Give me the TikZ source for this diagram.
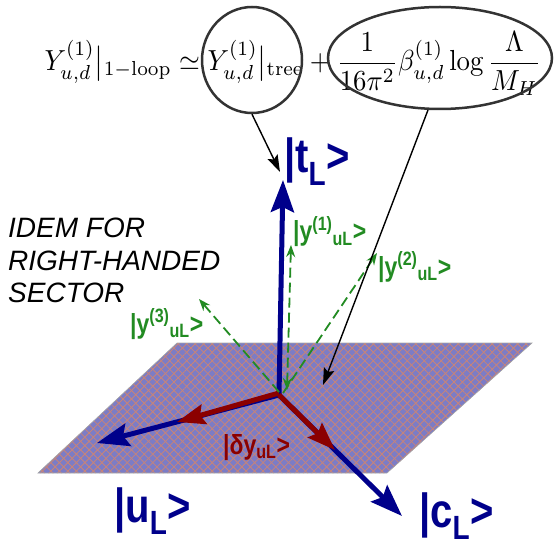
\documentclass[tikz,border=0pt]{standalone}
\usepackage{amsmath}
\usepackage{fontspec}
\setsansfont{Liberation Sans}
\usetikzlibrary{arrows.meta,shapes.geometric,patterns.meta}
\definecolor{Navy}{HTML}{00008B}
\definecolor{Maroon}{HTML}{8B0000}
\definecolor{Leaf}{HTML}{228B22}
\definecolor{Ring}{HTML}{333333}
\definecolor{PlaneBlue}{HTML}{7C7CC6}
\definecolor{PlaneHatch}{HTML}{C88478}

\begin{document}
\begin{tikzpicture}[x=1pt,y=1pt,
    ring/.style={draw=Ring,line width=2.5pt,ellipse,inner sep=0pt},
    basisvec/.style={draw=Navy,line width=5pt,-{Stealth[length=32pt,width=23pt,inset=5pt]}},
    shiftvec/.style={draw=Maroon,line width=5pt,-{Stealth[length=28pt,width=20pt,inset=4pt]}},
    yukvec/.style={draw=Leaf,line width=1.8pt,dash pattern=on 10pt off 5pt,-{Stealth[length=12pt,width=9pt]}},
    pointer/.style={draw=black,line width=1.4pt,-{Stealth[length=17pt,width=11pt,inset=3pt]}},
    ketbig/.style={text=Navy,font=\sffamily\bfseries\fontsize{40}{40}\selectfont,inner sep=0pt,anchor=base west,yscale=1.2,transform shape},
    ketsmall/.style={font=\sffamily\bfseries\fontsize{23}{23}\selectfont,inner sep=0pt,anchor=base west,yscale=1.2,transform shape}
  ]
    \useasboundingbox (0,0) rectangle (554,539);

    \fill[PlaneBlue] (38,66) -- (387,66) -- (532,196) -- (177,196) -- cycle;
    \fill[pattern={Lines[angle=45,distance=6pt,line width=0.8pt]},pattern color=PlaneHatch] (38,66) -- (387,66) -- (532,196) -- (177,196) -- cycle;
    \fill[pattern={Lines[angle=-45,distance=6pt,line width=0.8pt]},pattern color=PlaneHatch] (38,66) -- (387,66) -- (532,196) -- (177,196) -- cycle;
    \draw[gray!70,line width=0.6pt] (38,66) -- (387,66) -- (532,196) -- (177,196) -- cycle;

    \node[anchor=base west,inner sep=0pt,xscale=2.68,yscale=2.9,transform shape] (yuk) at (44,468)
      {$\displaystyle Y^{(1)}_{u,d}\big|{}_{1-\mathrm{loop}} \simeq Y^{(1)}_{u,d}\big|{}_{\mathrm{tree}} + \frac{1}{16\pi^2}\beta^{(1)}_{u,d}\log\frac{\Lambda}{M_H}$};
    \node[ring,minimum width=100pt,minimum height=106pt] (tree) at (252,479) {};
    \node[ring,minimum width=224pt,minimum height=102pt] (loop) at (440,481) {};

    \node[anchor=north west,align=left,inner sep=0pt,font=\sffamily\itshape\fontsize{28}{32.5}\selectfont] (idem) at (8,321) {IDEM FOR\\RIGHT-HANDED\\SECTOR};

    \coordinate (O) at (279,144);
    \coordinate (tT) at (283,359);
    \coordinate (tU) at (97,96);
    \coordinate (tC) at (402,23);
    \coordinate (dU) at (177,117);
    \coordinate (dC) at (335,89);
    \coordinate (y1) at (291,294);
    \coordinate (y2) at (377,286);
    \coordinate (y3) at (199,240);
    \coordinate (tipT) at (280,367);
    \coordinate (tipP) at (323,154);

    \draw[basisvec] (O) -- (tT);
    \draw[basisvec] (O) -- (tU);
    \draw[basisvec] (O) -- (tC);
    \draw[shiftvec] ([yshift=2pt]O) -- (dU);
    \draw[shiftvec] (O) -- (dC);

    \draw[yukvec,{Stealth[length=12pt,width=9pt]}-{Stealth[length=12pt,width=9pt]}] ([xshift=8pt,yshift=5pt]O) -- (y1);
    \draw[yukvec] ([xshift=4pt,yshift=2pt]O) -- (y2);
    \draw[yukvec] ([yshift=3pt]O) -- (y3);

    \draw[pointer] (tree.south) -- (tipT);
    \draw[pointer] (loop.257) -- (tipP);

    \node[ketbig] (ketT) at (284,366) {|t\textsubscript{L}>};
    \node[ketbig] (ketU) at (114,17) {|u\textsubscript{L}>};
    \node[ketbig] (ketC) at (419,12) {|c\textsubscript{L}>};
    \node[ketsmall,text=Leaf] (labY1) at (293,298) {|y\textsuperscript{(1)}\textsubscript{uL}>};
    \node[ketsmall,text=Leaf] (labY2) at (378,263) {|y\textsuperscript{(2)}\textsubscript{uL}>};
    \node[ketsmall,text=Leaf] (labY3) at (130,206) {|y\textsuperscript{(3)}\textsubscript{uL}>};
    \node[ketsmall,text=Maroon] (labD) at (223,85) {|δy\textsubscript{uL}>};
  \end{tikzpicture}
\end{document}
